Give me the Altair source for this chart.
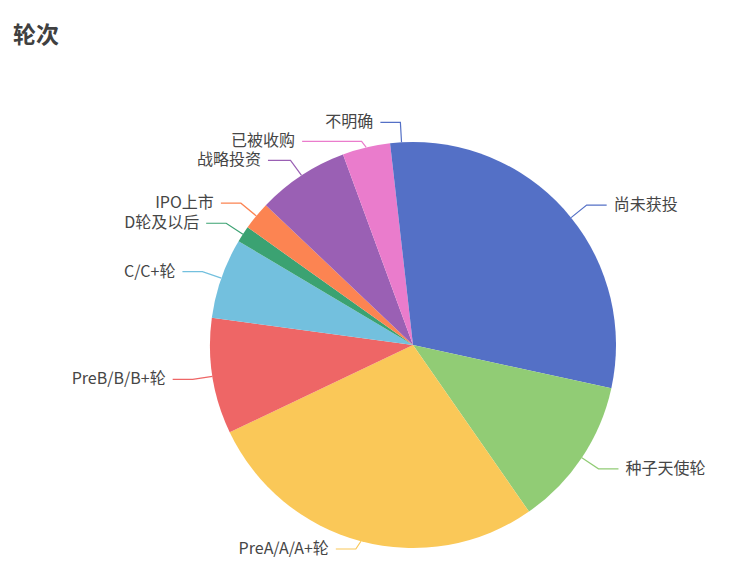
import math
import altair as alt
import pandas as pd

# ---- data ----
categories = ["尚未获投", "种子天使轮", "PreA/A/A+轮", "PreB/B/B+轮", "C/C+轮",
              "D轮及以后", "IPO上市", "战略投资", "已被收购", "不明确"]
values = [28.4, 11.9, 27.6, 9.2, 6.4, 1.3, 2.25, 7.3, 3.8, 1.8]
colors = ["#5470c6", "#91cc75", "#fac858", "#ee6666", "#73c0de",
          "#3ba272", "#fc8452", "#9a60b4", "#ea7ccc", "#5470c6"]
title_text = "轮次"

# ---- layout constants (page pixel coordinates) ----
CX, CY, R = 413, 345, 203
L1, L2, GAP = 20, 20, 7
MIN_SPACING = 19
Y_MAX = 549
PAD_TOP = 50
W, H = 724, 567 - 8 - 8 - PAD_TOP

total = sum(values)
cum = 0.0
info = []
for i, (c, v) in enumerate(zip(categories, values)):
    mid = (cum + v / 2) / total * 2 * math.pi
    cum += v
    s, co = math.sin(mid), math.cos(mid)
    side = 1 if s >= 0 else -1
    info.append(dict(cat=c, idx=i, side=side,
                     ex=CX + R * s, ey=CY - R * co,
                     bx=CX + (R + L1) * s, by=CY - (R + L1) * co))

# simple overlap avoidance (top-down on each side)
for side in (1, -1):
    items = sorted([d for d in info if d["side"] == side], key=lambda d: d["by"])
    prev = None
    for d in items:
        y = d["by"]
        shifted = False
        if prev is not None and y < prev + MIN_SPACING:
            y = prev + MIN_SPACING
            shifted = True
        y = min(y, Y_MAX)
        d["ly"] = y
        if shifted:
            dy = y - CY
            xe = CX + side * math.sqrt(max((R + L1) ** 2 - dy ** 2, 0))
            d["lx"] = xe + side * L2
        else:
            d["lx"] = d["bx"] + side * L2
        prev = y

line_rows, text_rows = [], []
for d in info:
    pts = [(d["ex"], d["ey"]), (d["bx"], d["ly"]), (d["lx"], d["ly"])]
    for k, (x, y) in enumerate(pts):
        line_rows.append(dict(cat=d["cat"], idx=d["idx"], pt=k, x=x, y=y))
    text_rows.append(dict(cat=d["cat"], side=d["side"],
                          x=d["lx"] + d["side"] * GAP, y=d["ly"]))

pie_df = pd.DataFrame({"cat": categories, "value": values,
                       "idx": list(range(len(categories))),
                       "cx": [CX] * len(categories), "cy": [CY] * len(categories)})
line_df = pd.DataFrame(line_rows)
text_df = pd.DataFrame(text_rows)

xs = alt.Scale(domain=[8, 8 + W])
ys = alt.Scale(domain=[8 + PAD_TOP, 8 + PAD_TOP + H], reverse=True)
cs = alt.Scale(domain=categories, range=colors)
FONT = "Noto Sans CJK SC"

pie = alt.Chart(pie_df).mark_arc(radius=R).encode(
    x=alt.X("cx:Q", scale=xs, axis=None),
    y=alt.Y("cy:Q", scale=ys, axis=None),
    theta=alt.Theta("value:Q", stack=True),
    color=alt.Color("cat:N", scale=cs, legend=None),
    order=alt.Order("idx:Q"),
)

lines = alt.Chart(line_df).mark_line(strokeWidth=1.2).encode(
    x=alt.X("x:Q", scale=xs, axis=None),
    y=alt.Y("y:Q", scale=ys, axis=None),
    color=alt.Color("cat:N", scale=cs, legend=None),
    detail="cat:N",
    order="pt:Q",
)

def label_layer(side, align):
    return alt.Chart(text_df[text_df["side"] == side]).mark_text(
        align=align, baseline="middle", fontSize=16, font=FONT, color="#464646"
    ).encode(
        x=alt.X("x:Q", scale=xs, axis=None),
        y=alt.Y("y:Q", scale=ys, axis=None),
        text="cat:N",
    )

chart = alt.layer(pie, lines, label_layer(1, "left"), label_layer(-1, "right")).properties(
    width=W, height=H,
    autosize="none",
    padding={"left": 0, "right": 0, "top": PAD_TOP, "bottom": 0},
    title=alt.TitleParams(title_text, anchor="start", fontSize=23, fontWeight="bold",
                          color="#404040", font=FONT, dx=5, offset=10),
).configure_view(stroke=None)

chart.save("out.html", embed_options={"renderer": "svg", "actions": False})
